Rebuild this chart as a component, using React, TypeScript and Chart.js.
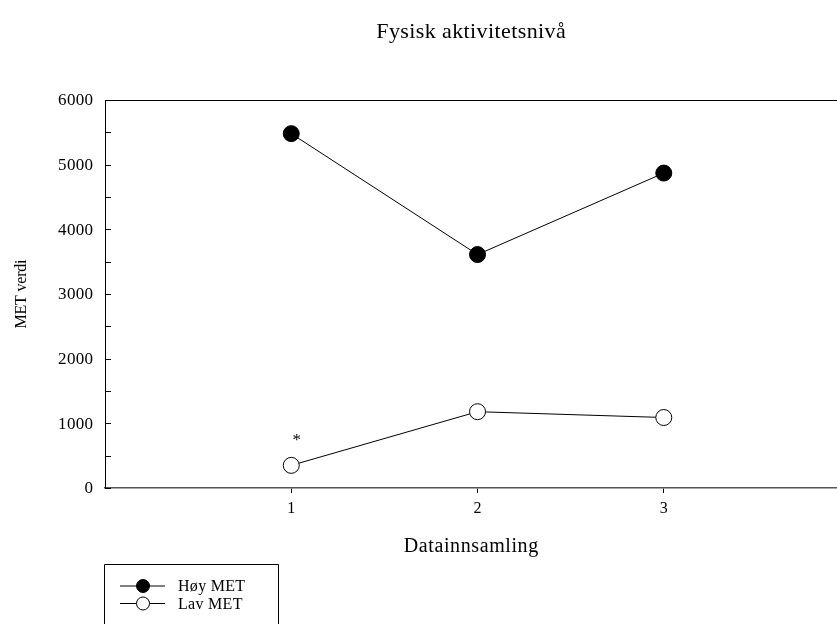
import React, { useEffect, useRef } from "react";
import { Chart, registerables } from "chart.js";

Chart.register(...registerables);

const chartTitle = "Fysisk aktivitetsnivå";
const xAxisTitle = "Datainnsamling";
const yAxisTitle = "MET verdi";
const collections = [1, 2, 3];
const hoyMet = [5480, 3610, 4870];
const lavMet = [350, 1180, 1090];
const seriesNames = ["Høy MET", "Lav MET"];
const yTickValues = [0, 1000, 2000, 3000, 4000, 5000, 6000];
const yMinorStep = 500;
const starMarks = [{ x: 1.03, y: 730, text: "*" }];

const SERIF = "'Liberation Serif', 'Times New Roman', serif";

function txt(ctx: any, s: string, x: number, y: number, size: number, spacing: number, align: string) {
  ctx.font = `${size}px ${SERIF}`;
  (ctx as any).letterSpacing = `${spacing}px`;
  const w = ctx.measureText(s).width - spacing;
  let x0 = x;
  if (align === "center") x0 = x - w / 2;
  else if (align === "right") x0 = x - w;
  ctx.textAlign = "left";
  ctx.fillText(s, x0, y);
  (ctx as any).letterSpacing = "0px";
}

const decorPlugin = {
  id: "decor",
  afterDraw(chart: any) {
    const ctx = chart.ctx;
    const area = chart.chartArea;
    const xs = chart.scales.x;
    const ys = chart.scales.y;
    ctx.save();
    ctx.strokeStyle = "#000";
    ctx.lineWidth = 1;
    ctx.beginPath();
    ctx.moveTo(area.left, area.top + 0.5);
    ctx.lineTo(area.right, area.top + 0.5);
    ctx.stroke();
    for (let v = ys.min; v <= ys.max; v += yMinorStep) {
      const py = Math.round(ys.getPixelForValue(v)) + 0.5;
      ctx.beginPath();
      ctx.moveTo(area.left, py);
      ctx.lineTo(area.left + 6, py);
      ctx.stroke();
    }
    ctx.fillStyle = "#000";
    ctx.textBaseline = "middle";
    for (const v of yTickValues) {
      txt(ctx, String(v), area.left - 12, ys.getPixelForValue(v) + 1, 17, 0.3, "right");
    }
    for (const c of collections) {
      txt(ctx, String(c), xs.getPixelForValue(c), 509, 16, 0, "center");
    }
    const cx = (area.left + area.right) / 2;
    txt(ctx, chartTitle, cx, 32, 22, 0.4, "center");
    txt(ctx, xAxisTitle, cx, 547, 20, 0.6, "center");
    ctx.save();
    ctx.translate(22, (area.top + area.bottom) / 2);
    ctx.rotate(-Math.PI / 2);
    txt(ctx, yAxisTitle, 0, 0, 16, -0.2, "center");
    ctx.restore();
    for (const s of starMarks) {
      txt(ctx, s.text, xs.getPixelForValue(s.x), ys.getPixelForValue(s.y), 17, 0, "center");
    }
    const lx = 104.5, ly = 564.5, lw = 174;
    ctx.strokeStyle = "#000";
    ctx.lineWidth = 1;
    ctx.beginPath();
    ctx.moveTo(lx, 630);
    ctx.lineTo(lx, ly);
    ctx.lineTo(lx + lw, ly);
    ctx.lineTo(lx + lw, 630);
    ctx.stroke();
    chart.data.datasets.forEach((ds: any, i: number) => {
      const cy = 586 + i * 17.5;
      ctx.beginPath();
      ctx.moveTo(120, cy);
      ctx.lineTo(165, cy);
      ctx.stroke();
      ctx.beginPath();
      ctx.arc(143, cy, 6.5, 0, Math.PI * 2);
      ctx.fillStyle = ds.pointBackgroundColor;
      ctx.fill();
      ctx.stroke();
      ctx.fillStyle = "#000";
      txt(ctx, ds.label, 178, cy + 1, 16, 0.3, "left");
    });
    ctx.restore();
  },
};

export default function App() {
  const ref = useRef<HTMLCanvasElement | null>(null);
  useEffect(() => {
    document.body.style.margin = "0";
    const canvas = ref.current!;
    const chart = new Chart(canvas, {
      type: "line",
      data: {
        datasets: [
          {
            label: seriesNames[0],
            data: collections.map((c, i) => ({ x: c, y: hoyMet[i] })),
            borderColor: "#000",
            borderWidth: 1,
            pointBackgroundColor: "#000",
            pointBorderColor: "#000",
            pointBorderWidth: 1,
            pointRadius: 8,
            tension: 0,
          },
          {
            label: seriesNames[1],
            data: collections.map((c, i) => ({ x: c, y: lavMet[i] })),
            borderColor: "#000",
            borderWidth: 1,
            pointBackgroundColor: "#fff",
            pointBorderColor: "#000",
            pointBorderWidth: 1,
            pointRadius: 8,
            tension: 0,
          },
        ],
      },
      options: {
        responsive: false,
        animation: false,
        layout: { autoPadding: false, padding: { top: 100, left: 0, right: 0, bottom: 0 } },
        plugins: { legend: { display: false }, tooltip: { enabled: false }, title: { display: false } },
        scales: {
          x: {
            type: "linear",
            min: 0,
            max: 3.93,
            afterBuildTicks: (s: any) => {
              s.ticks = collections.map((v) => ({ value: v }));
            },
            afterFit: (s: any) => {
              s.height = 136;
              s.paddingLeft = 0;
              s.paddingRight = 0;
            },
            grid: { drawOnChartArea: false, tickLength: 5, color: "#000" },
            border: { color: "#555", width: 1.5 },
            ticks: { display: false },
          },
          y: {
            min: 0,
            max: 6000,
            afterBuildTicks: (s: any) => {
              s.ticks = yTickValues.map((v) => ({ value: v }));
            },
            afterFit: (s: any) => {
              s.width = 105;
              s.paddingTop = 0;
              s.paddingBottom = 0;
            },
            grid: { display: false },
            border: { color: "#000", width: 1 },
            ticks: { display: false },
          },
        },
      },
      plugins: [decorPlugin],
    } as any);
    return () => chart.destroy();
  }, []);
  return (
    <div style={{ position: "absolute", left: 0, top: 0, width: 837, height: 624 }}>
      <canvas ref={ref} width={837} height={624} style={{ display: "block" }} />
    </div>
  );
}
